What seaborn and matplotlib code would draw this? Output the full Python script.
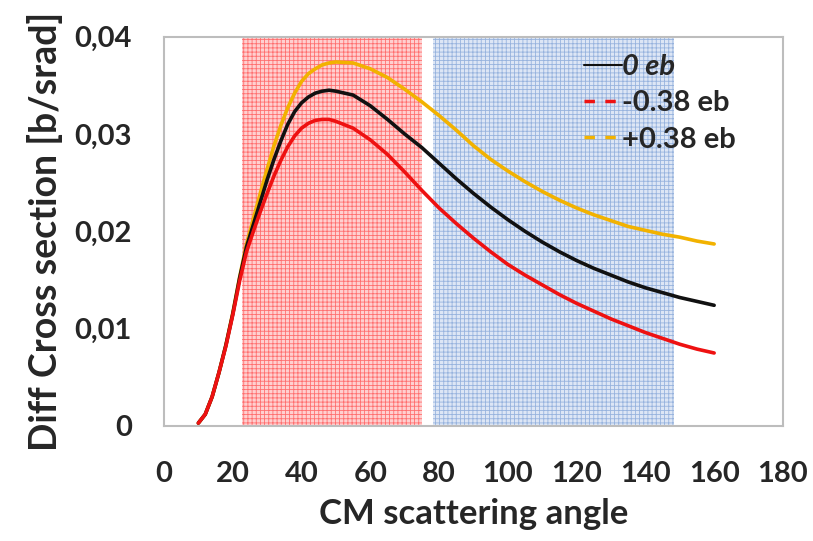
import numpy as np
import pandas as pd
import matplotlib
matplotlib.use("Agg")
import matplotlib.pyplot as plt
from matplotlib.lines import Line2D
import seaborn as sns

angle = [10, 12, 14, 16, 18, 20, 22, 24, 26, 28, 30, 32, 34, 36, 38, 40, 42, 44, 46,
         48, 50, 55, 60, 65, 70, 75, 80, 85, 90, 95, 100, 105, 110, 115, 120, 125,
         130, 135, 140, 145, 150, 155, 160]

zero_eb = [0.0003, 0.0012, 0.0030, 0.0055, 0.0083, 0.0115, 0.0152, 0.0184, 0.0207,
           0.0230, 0.0253, 0.0274, 0.0293, 0.0310, 0.0323, 0.0332, 0.0338, 0.0342,
           0.0344, 0.0345, 0.0344, 0.0340, 0.0329, 0.0315, 0.0300, 0.0286, 0.0270,
           0.0254, 0.0239, 0.0225, 0.0212, 0.0200, 0.0189, 0.0179, 0.0170, 0.0162,
           0.0155, 0.0148, 0.0142, 0.0137, 0.0132, 0.0128, 0.0124]

minus_eb = [0.0003, 0.0012, 0.0030, 0.0055, 0.0082, 0.0114, 0.0149, 0.0179, 0.0200,
            0.0220, 0.0239, 0.0257, 0.0273, 0.0287, 0.0298, 0.0306, 0.0311, 0.0314,
            0.0315, 0.0315, 0.0313, 0.0306, 0.0294, 0.0279, 0.0261, 0.0242, 0.0224,
            0.0208, 0.0193, 0.0179, 0.0166, 0.0155, 0.0145, 0.0135, 0.0126, 0.0118,
            0.0110, 0.0103, 0.0096, 0.0090, 0.0084, 0.0079, 0.0075]

plus_eb = [0.0003, 0.0012, 0.0030, 0.0055, 0.0083, 0.0116, 0.0153, 0.0187, 0.0213,
           0.0239, 0.0264, 0.0288, 0.0309, 0.0327, 0.0342, 0.0354, 0.0362, 0.0367,
           0.0371, 0.0373, 0.0374, 0.0373, 0.0367, 0.0358, 0.0346, 0.0333, 0.0319,
           0.0304, 0.0288, 0.0274, 0.0262, 0.0251, 0.0241, 0.0232, 0.0224, 0.0217,
           0.0211, 0.0205, 0.0201, 0.0197, 0.0194, 0.0190, 0.0187]

series_labels = ["0 eb", "-0.38 eb", "+0.38 eb"]
x_ticks = [0, 20, 40, 60, 80, 100, 120, 140, 160, 180]
y_ticks = [0, 0.01, 0.02, 0.03, 0.04]
y_tick_labels = ["0", "0,01", "0,02", "0,03", "0,04"]
red_band = (22.6, 75.0)
blue_band = (78.2, 148.3)

df = pd.DataFrame({
    "angle": angle * 3,
    "xs": zero_eb + minus_eb + plus_eb,
    "series": [series_labels[0]] * len(angle) + [series_labels[1]] * len(angle)
              + [series_labels[2]] * len(angle),
})

sns.set_style("white")
plt.rcParams["font.family"] = ["Lato", "DejaVu Sans"]
plt.rcParams["hatch.linewidth"] = 0.6

fig = plt.figure(figsize=(8.13, 5.41), dpi=100)
ax = fig.add_axes([0.2017, 0.2126, 0.7613, 0.7196])

ax.axvspan(*red_band, facecolor="#ffd0d0", edgecolor="#ff6f6f", hatch="++++", linewidth=0, zorder=0)
ax.axvspan(*blue_band, facecolor="#dde6f5", edgecolor="#97b3de", hatch="++++", linewidth=0, zorder=0)

palette = {series_labels[0]: "#111111", series_labels[1]: "#ee1111", series_labels[2]: "#f2b200"}
sns.lineplot(data=df, x="angle", y="xs", hue="series",
             hue_order=[series_labels[2], series_labels[0], series_labels[1]],
             palette=palette, linewidth=2.6, ax=ax, legend=False, zorder=3)

W = "bold"
ax.set_xlim(0, 180)
ax.set_ylim(0, 0.04)
ax.set_xticks(x_ticks)
ax.set_xticklabels([str(t) for t in x_ticks], fontsize=21, fontweight=W)
ax.set_yticks(y_ticks)
ax.set_yticklabels(y_tick_labels, fontsize=21, fontweight=W)
ax.tick_params(axis="both", direction="out", length=9, width=1.2, color="#bdbdbd")
ax.tick_params(axis="y", pad=14)
ax.tick_params(axis="x", pad=16)
for s in ax.spines.values():
    s.set_color("#bdbdbd")
    s.set_linewidth(1.5)

ax.set_xlabel("CM scattering angle", fontsize=25, fontweight=W, labelpad=8)
ax.set_ylabel("Diff Cross section [b/srad]", fontsize=27, fontweight=W, labelpad=8)

handles = [
    Line2D([], [], color=palette[series_labels[0]], lw=1.5),
    Line2D([], [], color=palette[series_labels[1]], lw=2.5, dashes=(3, 3)),
    Line2D([], [], color=palette[series_labels[2]], lw=2.5, dashes=(3, 3)),
]
leg = ax.legend(handles, series_labels, loc="upper left", bbox_to_anchor=(0.66, 0.985),
                frameon=False, fontsize=21, handlelength=1.3, handletextpad=0.0,
                labelspacing=0.35, borderaxespad=0)
for i, t in enumerate(leg.get_texts()):
    t.set_fontweight(W)
    if i == 0:
        t.set_fontstyle("italic")

fig.savefig("out.png", dpi=100)
